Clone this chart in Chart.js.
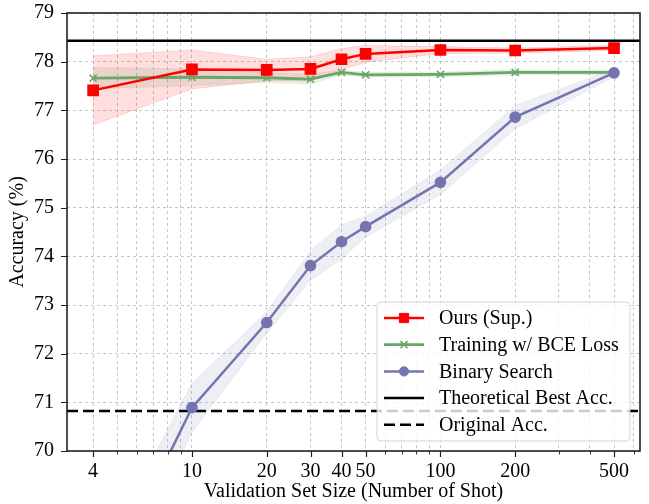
<!DOCTYPE html>
<html>
<head>
<meta charset="utf-8">
<script src="https://cdn.jsdelivr.net/npm/chart.js@4.4.0/dist/chart.umd.min.js"></script>
<style>
  html, body { margin: 0; padding: 0; background: #fff; }
</style>
</head>
<body>
<canvas id="chart" width="649" height="504"></canvas>
<script>
// ---- data ----
const shots = [4, 10, 20, 30, 40, 50, 100, 200, 500];
const xMajorTicks = [4, 10, 20, 30, 40, 50, 100, 200, 500];
const xMinorTicks = [5, 6, 7, 8, 9, 60, 70, 80, 90, 300, 400, 600];
const yTicks = [70, 71, 72, 73, 74, 75, 76, 77, 78, 79];

const oursMean = [77.41, 77.84, 77.83, 77.85, 78.05, 78.16, 78.24, 78.23, 78.28];
const oursErr  = [0.71, 0.40, 0.22, 0.25, 0.22, 0.17, 0.07, 0.05, 0.05];
const bceMean  = [77.66, 77.68, 77.67, 77.64, 77.78, 77.73, 77.74, 77.78, 77.78];
const bceErr   = [0.22, 0.17, 0.10, 0.10, 0.05, 0.05, 0.05, 0.05, 0.04];
const binMean  = [66.75, 70.89, 72.64, 73.81, 74.30, 74.61, 75.52, 76.86, 77.77];
const binErr   = [0.80, 0.50, 0.22, 0.30, 0.35, 0.22, 0.25, 0.24, 0.08];

const theoreticalBest = 78.43;
const originalAcc = 70.82;
const xMin = 3.14, xMax = 636;
const yMin = 70, yMax = 79;

const FONT = "'Liberation Serif', 'DejaVu Serif', serif";
const FS = 20;
const RED = '#ff0000', GREEN = '#6aa56a', BLUE = '#7474b0';

const pts = (ys) => shots.map((x, i) => ({ x, y: ys[i] }));
const band = (mean, err, sign) => shots.map((x, i) => ({ x, y: mean[i] + sign * err[i] }));

function bandSets(mean, err, fillCol, edgeCol) {
  const base = { pointRadius: 0, borderWidth: 1, borderColor: edgeCol, tension: 0, order: 10 };
  return [
    Object.assign({ label: '_up', data: band(mean, err, 1), fill: false }, base),
    Object.assign({ label: '_lo', data: band(mean, err, -1), fill: '-1', backgroundColor: fillCol }, base)
  ];
}

const datasets = [
  ...bandSets(oursMean, oursErr, 'rgba(255,0,0,0.13)', 'rgba(255,0,0,0.12)'),
  ...bandSets(bceMean, bceErr, 'rgba(106,165,106,0.15)', 'rgba(106,165,106,0.12)'),
  ...bandSets(binMean, binErr, 'rgba(116,116,176,0.12)', 'rgba(116,116,176,0.1)'),
  { label: 'Ours (Sup.)', data: pts(oursMean), borderColor: RED, backgroundColor: RED,
    borderWidth: 2.5, pointStyle: 'rect', pointRadius: 6.5, order: 1 },
  { label: 'Training w/ BCE Loss', data: pts(bceMean), borderColor: GREEN, backgroundColor: GREEN,
    borderWidth: 2.8, pointStyle: 'crossRot', pointRadius: 5, pointBorderWidth: 1.6, order: 3 },
  { label: 'Binary Search', data: pts(binMean), borderColor: BLUE, backgroundColor: BLUE,
    borderWidth: 2.5, pointStyle: 'circle', pointRadius: 4.6, order: 2 },
  { label: 'Theoretical Best Acc.', data: [{ x: xMin, y: theoreticalBest }, { x: xMax, y: theoreticalBest }],
    borderColor: '#000', borderWidth: 2.5, pointRadius: 0, order: 5 },
  { label: 'Original Acc.', data: [{ x: xMin, y: originalAcc }, { x: xMax, y: originalAcc }],
    borderColor: '#000', borderWidth: 2.5, borderDash: [11, 5], pointRadius: 0, order: 5 }
];

// frame + outward tick marks, matplotlib style
const framePlugin = {
  id: 'frame',
  afterDatasetsDraw(chart) {
    const { ctx, chartArea: a, scales: { x, y } } = chart;
    ctx.save();
    ctx.strokeStyle = '#222';
    ctx.lineWidth = 1.2;
    ctx.beginPath();
    yTicks.forEach(v => { const p = Math.round(y.getPixelForValue(v)) + 0.5; ctx.moveTo(a.left - 6, p); ctx.lineTo(a.left, p); });
    xMajorTicks.forEach(v => { const p = Math.round(x.getPixelForValue(v)) + 0.5; ctx.moveTo(p, a.bottom); ctx.lineTo(p, a.bottom + 6); });
    ctx.stroke();
    ctx.lineWidth = 0.9;
    ctx.beginPath();
    xMinorTicks.forEach(v => { const p = Math.round(x.getPixelForValue(v)) + 0.5; ctx.moveTo(p, a.bottom); ctx.lineTo(p, a.bottom + 3.5); });
    ctx.stroke();
    ctx.lineWidth = 1.6;
    ctx.strokeRect(a.left, a.top, a.right - a.left, a.bottom - a.top);
    ctx.restore();
  }
};

// legend box inside lower right of the axes
const legendPlugin = {
  id: 'boxLegend',
  afterDraw(chart) {
    const { ctx, chartArea: a } = chart;
    const bx = a.right - 263, by = a.bottom - 149, bw = 253, bh = 139;
    ctx.save();
    ctx.beginPath();
    ctx.roundRect(bx, by, bw, bh, 4);
    ctx.fillStyle = 'rgba(255,255,255,0.8)';
    ctx.fill();
    ctx.strokeStyle = 'rgba(204,204,204,0.8)';
    ctx.lineWidth = 1;
    ctx.stroke();
    const items = datasets.filter(d => !d.label.startsWith('_'));
    ctx.font = FS + 'px ' + FONT;
    ctx.textBaseline = 'middle';
    items.forEach((d, i) => {
      const ry = by + 16 + i * 26.7;
      const x0 = bx + 7, x1 = bx + 47;
      ctx.strokeStyle = d.borderColor;
      ctx.lineWidth = d.borderWidth;
      ctx.setLineDash(d.borderDash || []);
      ctx.beginPath(); ctx.moveTo(x0, ry); ctx.lineTo(x1, ry); ctx.stroke();
      ctx.setLineDash([]);
      if (d.pointRadius > 0) {
        ctx.fillStyle = d.backgroundColor;
        ctx.strokeStyle = d.borderColor;
        ctx.lineWidth = d.pointBorderWidth || 1;
        Chart.helpers.drawPoint(ctx, {
          pointStyle: d.pointStyle, radius: d.pointRadius, borderWidth: d.pointBorderWidth || 1, rotation: 0
        }, (x0 + x1) / 2, ry);
      }
      ctx.fillStyle = '#000';
      ctx.fillText(d.label, bx + 62, ry + 1);
    });
    ctx.restore();
  }
};

new Chart(document.getElementById('chart'), {
  type: 'line',
  data: { datasets },
  options: {
    responsive: false,
    animation: false,
    devicePixelRatio: 1,
    layout: { padding: { top: 13, right: 6, left: 0, bottom: 0 } },
    plugins: { legend: { display: false }, tooltip: { enabled: false } },
    scales: {
      x: {
        type: 'logarithmic', min: xMin, max: xMax,
        afterBuildTicks: (s) => { s.ticks = xMajorTicks.concat(xMinorTicks).map(v => ({ value: v })); },
        afterFit: (s) => { s.height = 53; s.paddingLeft = 0; s.paddingRight = 0; },
        grid: { color: '#b8b8b8', lineWidth: 0.8, drawTicks: false },
        border: { display: false, dash: [3, 3] },
        ticks: {
          autoSkip: false, maxRotation: 0, padding: 9, color: '#000',
          font: { family: FONT, size: FS },
          callback: (v) => xMajorTicks.includes(v) ? String(v) : ''
        },
        title: { display: true, text: 'Validation Set Size (Number of Shot)', color: '#000',
          font: { family: FONT, size: FS }, padding: { top: -2, bottom: 0 } }
      },
      y: {
        min: yMin, max: yMax,
        afterBuildTicks: (s) => { s.ticks = yTicks.map(v => ({ value: v })); },
        afterFit: (s) => { s.width = 67; s.paddingTop = 0; s.paddingBottom = 0; },
        grid: { color: '#b8b8b8', lineWidth: 0.8, drawTicks: false },
        border: { display: false, dash: [3, 3] },
        ticks: { padding: 13, color: '#000', font: { family: FONT, size: FS } },
        title: { display: true, text: 'Accuracy (%)', color: '#000',
          font: { family: FONT, size: FS }, padding: { top: 6, bottom: 0 } }
      }
    }
  },
  plugins: [framePlugin, legendPlugin]
});
</script>
</body>
</html>
